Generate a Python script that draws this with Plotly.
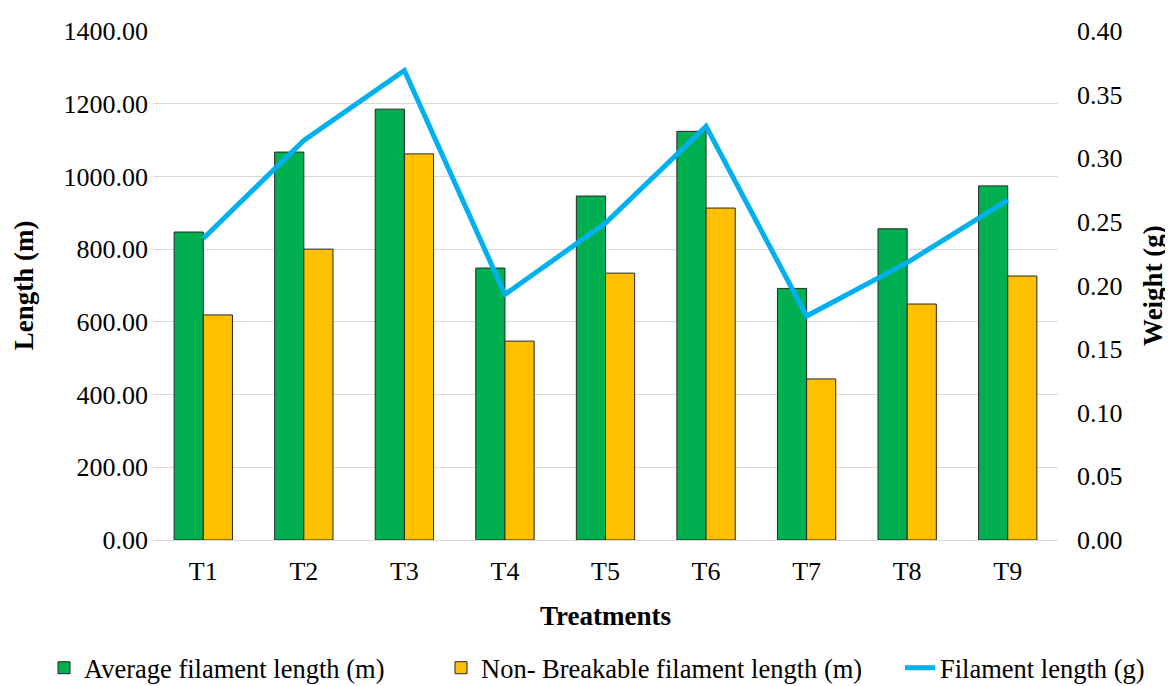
import plotly.graph_objects as go

categories = ["T1", "T2", "T3", "T4", "T5", "T6", "T7", "T8", "T9"]
avg_length = [847, 1067, 1185, 748, 946, 1124, 692, 856, 974]
nonbreak_length = [619, 800, 1062, 547, 734, 913, 443, 649, 726]
filament_weight = [0.237, 0.314, 0.369, 0.193, 0.249, 0.325, 0.176, 0.218, 0.267]

left_ticks = [0, 200, 400, 600, 800, 1000, 1200, 1400]
right_ticks = [0, 0.05, 0.10, 0.15, 0.20, 0.25, 0.30, 0.35, 0.40]

FONT = "Liberation Serif"
W, H = 1165, 678  # page body has an 8px default margin

fig = go.Figure()
fig.add_trace(go.Bar(
    x=categories, y=avg_length, name="Average filament length (m)",
    marker=dict(color="#00B050", line=dict(color="#262626", width=1)),
    legend="legend",
))
fig.add_trace(go.Bar(
    x=categories, y=nonbreak_length, name="Non- Breakable filament length (m)",
    marker=dict(color="#FFC000", line=dict(color="#262626", width=1)),
    legend="legend2",
))
fig.add_trace(go.Scatter(
    x=categories, y=filament_weight, name="Filament length (g)", yaxis="y2",
    mode="lines", line=dict(color="#00B0F0", width=5),
    legend="legend3",
))

def leg(xpx):
    return dict(orientation="h", xref="container", yref="container",
                x=xpx / W, xanchor="left", y=18 / H, yanchor="middle",
                font=dict(family=FONT, size=26.5), itemwidth=30,
                bgcolor="rgba(0,0,0,0)")

fig.update_layout(
    width=W, height=H,
    margin=dict(l=145, r=115, t=23, b=146, autoexpand=False),
    paper_bgcolor="white", plot_bgcolor="white",
    font=dict(family=FONT, size=26, color="black"),
    barmode="group", bargap=0.42, bargroupgap=0,
    showlegend=True,
    legend=leg(36), legend2=leg(433), legend3=leg(892),
    xaxis=dict(
        title=dict(text="<b>Treatments</b>", font=dict(family=FONT, size=27), standoff=21),
        showgrid=False, showline=False, ticks="", tickfont=dict(family=FONT, size=26),
        ticklabelstandoff=13,
    ),
    yaxis=dict(
        title=dict(text="<b>Length (m)</b>", font=dict(family=FONT, size=27), standoff=22),
        range=[0, 1400], tickvals=left_ticks, tickformat=".2f",
        showgrid=True, gridcolor="#d9d9d9", gridwidth=1.3,
        zeroline=True, zerolinecolor="#d9d9d9", zerolinewidth=1.3,
        showline=False, ticks="", tickfont=dict(family=FONT, size=26),
        ticklabelstandoff=4,
    ),
    yaxis2=dict(
        title=dict(text="<b>Weight (g)</b>", font=dict(family=FONT, size=27), standoff=21),
        overlaying="y", side="right", range=[0, 0.40], tickvals=right_ticks,
        tickformat=".2f", showgrid=False, zeroline=False, showline=False,
        ticks="", tickfont=dict(family=FONT, size=26), ticklabelstandoff=18,
    ),
)

fig.write_html("out.html")
